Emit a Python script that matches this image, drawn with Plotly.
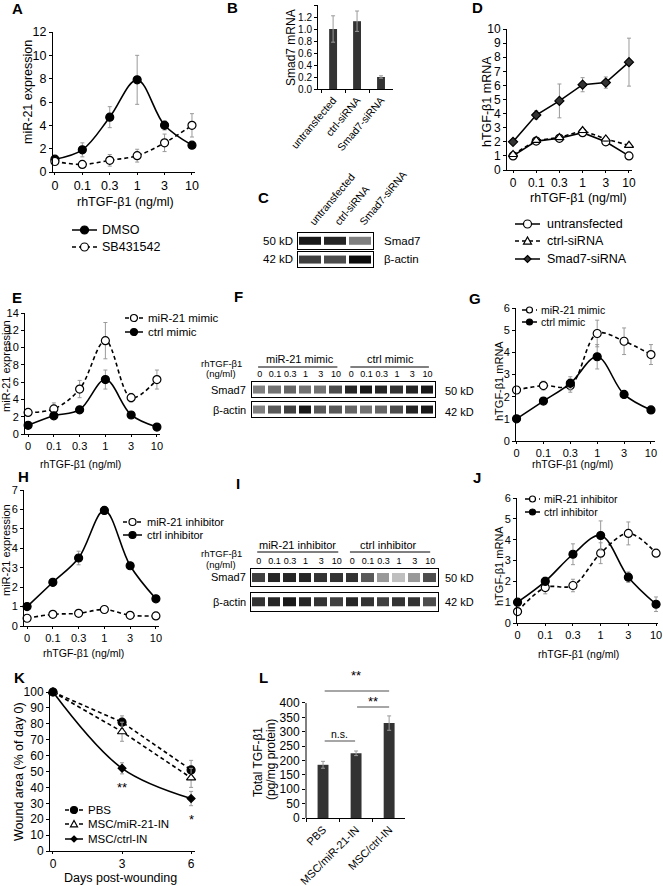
import plotly.graph_objects as go

W, H = 663, 886
FONT = "Liberation Sans, Arial, Helvetica, sans-serif"
ERR = "#9a9a9a"
BAR = "#333333"

# ---------------- data ----------------
doses = ["0", "0.1", "0.3", "1", "3", "10"]

a_names = ["DMSO", "SB431542"]
a_dmso = [1.1, 1.9, 4.7, 7.9, 4.0, 2.3]
a_dmso_err = [0.1, 0.6, 0.9, 2.1, 0.4, 0.1]
a_sb = [0.9, 0.65, 1.0, 1.4, 2.5, 4.0]
a_sb_err = [0.2, 0.1, 0.5, 0.55, 0.75, 1.0]

b_groups = ["untransfected", "ctrl-siRNA", "Smad7-siRNA"]
b_smad7 = [1.0, 1.13, 0.2]
b_smad7_err = [0.22, 0.17, 0.02]

c_smad7_band = [0.9, 0.85, 0.5]
c_actin_band = [0.75, 0.7, 0.95]

d_names = ["untransfected", "ctrl-siRNA", "Smad7-siRNA"]
d_untr = [1.0, 2.05, 2.25, 2.65, 2.0, 1.0]
d_untr_err = [0.1, 0.15, 0.1, 0.15, 0.1, 0.05]
d_ctrl = [1.1, 2.1, 2.3, 2.8, 2.2, 1.75]
d_ctrl_err = [0.1, 0.1, 0.1, 0.15, 0.15, 0.1]
d_smad = [2.0, 3.9, 4.9, 6.05, 6.2, 7.65]
d_smad_err = [0.05, 0.3, 1.2, 0.5, 0.4, 1.7]

mimic_names = ["miR-21 mimic", "ctrl mimic"]
e_mir = [2.5, 2.9, 5.2, 10.8, 4.2, 6.3]
e_mir_err = [0.2, 0.7, 1.0, 2.1, 0.5, 1.1]
e_ctrl = [1.0, 2.1, 2.8, 6.3, 2.2, 0.8]
e_ctrl_err = [0.1, 0.2, 0.2, 1.1, 0.2, 0.1]

lane_doses = doses + doses
f_smad7_band = [0.5, 0.55, 0.6, 0.55, 0.55, 0.7, 0.85, 0.9, 0.85, 0.8, 0.85, 0.9]
f_actin_band = [0.5, 0.65, 0.75, 0.9, 0.65, 0.65, 0.6, 0.55, 0.6, 0.7, 0.85, 0.9]

g_mir = [2.3, 2.5, 2.5, 4.85, 4.5, 3.9]
g_mir_err = [0.1, 0.2, 0.3, 0.6, 0.6, 0.45]
g_ctrl = [1.0, 1.8, 2.6, 3.8, 2.1, 1.4]
g_ctrl_err = [0.05, 0.1, 0.3, 0.55, 0.15, 0.1]

inhib_names = ["miR-21 inhibitor", "ctrl inhibitor"]
h_mir = [0.4, 0.6, 0.65, 0.85, 0.55, 0.52]
h_mir_err = [0.05, 0.05, 0.05, 0.06, 0.05, 0.05]
h_ctrl = [1.0, 2.25, 3.5, 5.95, 3.1, 1.4]
h_ctrl_err = [0.05, 0.2, 0.35, 0.2, 0.1, 0.1]

i_smad7_band = [0.75, 0.85, 0.85, 0.85, 0.8, 0.8, 0.8, 0.65, 0.4, 0.25, 0.4, 0.7]
i_actin_band = [0.8, 0.85, 0.9, 0.85, 0.8, 0.75, 0.85, 0.8, 0.75, 0.8, 0.8, 0.7]

j_mir = [0.55, 1.7, 1.8, 3.35, 4.3, 3.35]
j_mir_err = [0.05, 0.3, 0.3, 0.5, 0.55, 0.05]
j_ctrl = [1.0, 2.0, 3.3, 4.2, 2.2, 0.9]
j_ctrl_err = [0.05, 0.2, 0.5, 0.7, 0.25, 0.35]

k_names = ["PBS", "MSC/miR-21-IN", "MSC/ctrl-IN"]
k_days = [0, 3, 6]
k_pbs = [100, 81, 51]
k_pbs_err = [0, 4, 6]
k_mir = [100, 75, 46]
k_mir_err = [0, 6, 6]
k_ctrl = [100, 52, 33]
k_ctrl_err = [0, 3.5, 4.5]

l_groups = ["PBS", "MSC/miR-21-IN", "MSC/ctrl-IN"]
l_tgf = [185, 225, 330]
l_tgf_err = [12, 8, 25]

# ---------------- helpers ----------------
fig = go.Figure()
layout = dict(template="none", width=W, height=H, margin=dict(l=0, r=0, t=0, b=0, pad=0),
              autosize=False, paper_bgcolor="white", plot_bgcolor="white",
              font=dict(family=FONT, color="black", size=12), showlegend=False)
annotations = []
shapes = []


def names(i):
    s = "" if i == 1 else str(i)
    return "xaxis" + s, "yaxis" + s, "x" + s, "y" + s


def set_axes(i, left, right, top, bottom, xkw, ykw, fs=12):
    xa, ya, xr, yr = names(i)
    base = dict(showgrid=False, zeroline=False, showline=True, linecolor="black",
                linewidth=1, ticks="outside", ticklen=3, tickwidth=1, tickcolor="black",
                automargin=False, tickfont=dict(family=FONT, size=fs, color="black"))
    layout[xa] = {**base, "domain": [left / W, right / W], "anchor": yr, **xkw}
    layout[ya] = {**base, "domain": [1 - bottom / H, 1 - top / H], "anchor": xr, **ykw}
    return xr, yr


def note(text, x, y, size=12, angle=0, xanchor="center", bold=False):
    annotations.append(dict(text=("<b>%s</b>" % text) if bold else text, x=x / W, y=1 - y / H,
                            xref="paper", yref="paper", showarrow=False, textangle=angle,
                            xanchor=xanchor, yanchor="middle",
                            font=dict(family=FONT, size=size, color="black")))


def series(xr, yr, x, y, err, name, symbol, fill, dash, size=8, shape="spline", lw=1.6):
    fig.add_trace(go.Scatter(
        x=x, y=y, name=name, xaxis=xr, yaxis=yr, mode="lines+markers",
        cliponaxis=False, showlegend=False,
        line=dict(color="black", width=lw, dash=dash, shape=shape, smoothing=1),
        marker=dict(symbol=symbol, size=size, color=fill, line=dict(color="black", width=1.2)),
        error_y=dict(type="data", array=err, color=ERR, thickness=1, width=2)))


def legend_rows(x0, x1, tx, rows, fs):
    """Key: a short line with its marker in the middle, then the series name."""
    for y, name, symbol, fill, dash, size in rows:
        yy = 1 - y / H
        shapes.append(dict(type="line", xref="paper", yref="paper", x0=x0 / W, x1=x1 / W,
                           y0=yy, y1=yy, line=dict(color="black", width=1.5, dash=dash)))
        r = size / 2.0
        base = dict(xref="paper", yref="paper", xsizemode="pixel", ysizemode="pixel",
                    xanchor=(x0 + x1) / 2.0 / W, yanchor=yy, fillcolor=fill,
                    line=dict(color="black", width=1.2), layer="above")
        if symbol == "circle":
            shapes.append(dict(type="circle", x0=-r, x1=r, y0=-r, y1=r, **base))
        elif symbol == "triangle-up":
            shapes.append(dict(type="path", path="M %g %g L %g %g L 0 %g Z" % (-r, -0.8 * r, r, -0.8 * r, r), **base))
        else:
            shapes.append(dict(type="path", path="M 0 %g L %g 0 L 0 %g L %g 0 Z" % (r, r, -r, -r), **base))
        annotations.append(dict(text=name, x=tx / W, y=yy, xref="paper", yref="paper",
                                xanchor="left", yanchor="middle", showarrow=False,
                                font=dict(family=FONT, size=fs, color="black")))


def blot(i, left, right, top, bottom, bands, ticktext=None, tickangle=0, fs=10):
    xkw = dict(range=[-0.5, len(bands) - 0.5], mirror=True, ticks="", side="top",
               showticklabels=ticktext is not None)
    if ticktext is not None:
        xkw.update(tickvals=list(range(len(bands))), ticktext=ticktext, tickangle=tickangle)
    xr, yr = set_axes(i, left, right, top, bottom, xkw,
                      dict(range=[-0.95, 0.95], mirror=True, ticks="", showticklabels=False), fs=fs)
    fig.add_trace(go.Heatmap(z=[bands], xaxis=xr, yaxis=yr,
                             colorscale=[[0, "white"], [1, "black"]], zmin=0, zmax=1,
                             showscale=False, xgap=3, hoverinfo="skip"))
    return xr, yr


dash_s = "4px,3px"
xcat = dict(type="category", ticklen=2)

# ---------------- A ----------------
xr, yr = set_axes(1, 53, 195, 32, 172, dict(xcat, range=[-0.07, 5.11]),
                  dict(range=[0, 12], dtick=2), fs=12.5)
series(xr, yr, doses, a_dmso, a_dmso_err, a_names[0], "circle", "black", "solid")
series(xr, yr, doses, a_sb, a_sb_err, a_names[1], "circle", "white", dash_s)
legend_rows(72, 97, 100, [(230, a_names[0], "circle", "black", "solid", 8),
                          (247, a_names[1], "circle", "white", dash_s, 8)], 12.5)
note("A", 17, 9, 15, bold=True)
note("miR-21 expression", 28, 92, 12.5, angle=-90)
note("rhTGF-β1 (ng/ml)", 125, 202, 12.5)

# ---------------- B ----------------
xr, yr = set_axes(2, 318, 393, 5, 89,
                  dict(type="category", range=[-0.63, 2.5], tickson="boundaries", tickangle=-50,
                       tickfont=dict(family=FONT, size=10.5, color="black")),
                  dict(range=[0, 1.4], dtick=0.2, tickformat=".1f"), fs=10)
fig.add_trace(go.Bar(x=b_groups, y=b_smad7, xaxis=xr, yaxis=yr, width=0.33, showlegend=False,
                     marker=dict(color=BAR, line=dict(width=0)),
                     error_y=dict(type="data", array=b_smad7_err, color=ERR, thickness=1, width=2)))
note("B", 233, 8, 15, bold=True)
note("Smad7 mRNA", 291, 48, 12, angle=-90)

# ---------------- C ----------------
blot(3, 298, 373, 233, 249, c_smad7_band, ticktext=b_groups, tickangle=-50, fs=10.5)
blot(4, 298, 373, 252, 267, c_actin_band)
note("C", 263, 197, 15, bold=True)
note("50 kD", 295, 241, 11.5, xanchor="right")
note("42 kD", 295, 259, 11.5, xanchor="right")
note("Smad7", 382, 241, 11.5, xanchor="left")
note("β-actin", 382, 259, 11.5, xanchor="left")

# ---------------- D ----------------
xr, yr = set_axes(5, 507, 632, 29, 170, dict(xcat, range=[-0.26, 5.13]),
                  dict(range=[0, 10], dtick=1), fs=12)
series(xr, yr, doses, d_untr, d_untr_err, d_names[0], "circle", "white", "solid", shape="linear")
series(xr, yr, doses, d_ctrl, d_ctrl_err, d_names[1], "triangle-up", "white", dash_s, shape="linear")
series(xr, yr, doses, d_smad, d_smad_err, d_names[2], "diamond", "#333333", "solid", size=7, shape="linear")
legend_rows(515, 540, 545, [(224, d_names[0], "circle", "white", "solid", 8),
                            (241, d_names[1], "triangle-up", "white", dash_s, 8),
                            (259, d_names[2], "diamond", "#333333", "solid", 7)], 12.5)
note("D", 477, 8, 15, bold=True)
note("hTGF-β1 mRNA", 487, 102, 12.5, angle=-90)
note("rhTGF-β1 (ng/ml)", 578, 198, 12.5)

# ---------------- E ----------------
xr, yr = set_axes(6, 25, 160, 313, 434, dict(xcat, range=[-0.12, 5.12]),
                  dict(range=[0, 14], dtick=2), fs=11)
series(xr, yr, doses, e_mir, e_mir_err, mimic_names[0], "circle", "white", dash_s)
series(xr, yr, doses, e_ctrl, e_ctrl_err, mimic_names[1], "circle", "black", "solid")
legend_rows(125, 143, 146, [(318, mimic_names[0], "circle", "white", dash_s, 7),
                            (332, mimic_names[1], "circle", "black", "solid", 7)], 11.5)
note("E", 17, 297, 15, bold=True)
note("miR-21 expression", 6, 366, 11, angle=-90)
note("rhTGF-β1 (ng/ml)", 80, 464, 10.5)

# ---------------- F ----------------
xr, yr = blot(7, 252, 435, 382, 397, f_smad7_band, ticktext=lane_doses, fs=9)
blot(8, 252, 435, 402, 417, f_actin_band)
note("F", 238, 296, 15, bold=True)
note(mimic_names[0], 300, 359, 11)
note(mimic_names[1], 390, 359, 11)
shapes.append(dict(type="line", xref=xr, yref="paper", x0=-0.1, x1=5.1, y0=1 - 367 / H, y1=1 - 367 / H,
                   line=dict(color="black", width=1)))
shapes.append(dict(type="line", xref=xr, yref="paper", x0=5.95, x1=11.1, y0=1 - 367 / H, y1=1 - 367 / H,
                   line=dict(color="black", width=1)))
note("rhTGF-β1", 221, 363, 9.5)
note("(ng/ml)", 221, 374, 9.5)
note("Smad7", 248, 390, 11, xanchor="right")
note("β-actin", 248, 410, 11, xanchor="right")
note("50 kD", 443, 391, 11, xanchor="left")
note("42 kD", 443, 412, 11, xanchor="left")

# ---------------- G ----------------
xr, yr = set_axes(9, 516, 655, 308, 441, dict(xcat, range=[-0.02, 5.15]),
                  dict(range=[0, 6], dtick=1), fs=11)
series(xr, yr, doses, g_mir, g_mir_err, mimic_names[0], "circle", "white", dash_s)
series(xr, yr, doses, g_ctrl, g_ctrl_err, mimic_names[1], "circle", "black", "solid")
legend_rows(522, 537, 539, [(310, mimic_names[0], "circle", "white", dash_s, 6),
                            (322, mimic_names[1], "circle", "black", "solid", 6)], 10.5)
note("G", 475, 298, 15, bold=True)
note("hTGF-β1 mRNA", 499, 381, 11, angle=-90)
note("rhTGF-β1 (ng/ml)", 572, 464, 10.5)

# ---------------- H ----------------
xr, yr = set_axes(10, 24, 159, 490, 626, dict(xcat, range=[-0.12, 5.12]),
                  dict(range=[0, 7], dtick=1), fs=11)
series(xr, yr, doses, h_mir, h_mir_err, inhib_names[0], "circle", "white", dash_s)
series(xr, yr, doses, h_ctrl, h_ctrl_err, inhib_names[1], "circle", "black", "solid")
legend_rows(123, 142, 145, [(522, inhib_names[0], "circle", "white", dash_s, 7),
                            (535, inhib_names[1], "circle", "black", "solid", 7)], 11)
note("H", 23, 476, 15, bold=True)
note("miR-21 expression", 6, 550, 11, angle=-90)
note("rhTGF-β1 (ng/ml)", 83, 653, 10.5)

# ---------------- I ----------------
xr, yr = blot(11, 251, 438, 569, 586, i_smad7_band, ticktext=lane_doses, fs=9)
blot(12, 251, 438, 593, 611, i_actin_band)
note("I", 238, 483, 15, bold=True)
note(inhib_names[0], 297, 545, 11)
note(inhib_names[1], 388, 545, 11)
shapes.append(dict(type="line", xref=xr, yref="paper", x0=-0.1, x1=5.1, y0=1 - 552 / H, y1=1 - 552 / H,
                   line=dict(color="black", width=1)))
shapes.append(dict(type="line", xref=xr, yref="paper", x0=5.85, x1=11.0, y0=1 - 552 / H, y1=1 - 552 / H,
                   line=dict(color="black", width=1)))
note("rhTGF-β1", 221, 553, 9.5)
note("(ng/ml)", 221, 564, 9.5)
note("Smad7", 248, 577, 11, xanchor="right")
note("β-actin", 248, 602, 11, xanchor="right")
note("50 kD", 443, 578, 11, xanchor="left")
note("42 kD", 443, 602, 11, xanchor="left")

# ---------------- J ----------------
xr, yr = set_axes(13, 517, 658, 498, 623, dict(xcat, range=[-0.02, 5.07]),
                  dict(range=[0, 6], dtick=1), fs=11)
series(xr, yr, doses, j_mir, j_mir_err, inhib_names[0], "circle", "white", dash_s)
series(xr, yr, doses, j_ctrl, j_ctrl_err, inhib_names[1], "circle", "black", "solid")
legend_rows(525, 540, 542, [(499, inhib_names[0], "circle", "white", dash_s, 6),
                            (512, inhib_names[1], "circle", "black", "solid", 6)], 10.5)
note("J", 477, 477, 15, bold=True)
note("hTGF-β1 mRNA", 499, 566, 11, angle=-90)
note("rhTGF-β1 (ng/ml)", 578, 654, 10.5)

# ---------------- K ----------------
xr, yr = set_axes(14, 50, 195, 692, 851, dict(range=[-0.13, 6.17], tickvals=k_days, ticklen=2),
                  dict(range=[0, 100], dtick=10), fs=12)
series(xr, yr, k_days, k_pbs, k_pbs_err, k_names[0], "circle", "black", dash_s, size=8, shape="linear")
series(xr, yr, k_days, k_mir, k_mir_err, k_names[1], "triangle-up", "white", dash_s, size=8, shape="linear")
series(xr, yr, k_days, k_ctrl, k_ctrl_err, k_names[2], "diamond", "black", "solid", size=6)
legend_rows(65, 83, 86, [(810, k_names[0], "circle", "black", dash_s, 7),
                         (824, k_names[1], "triangle-up", "white", dash_s, 7),
                         (839, k_names[2], "diamond", "black", "solid", 6)], 11.5)
note("K", 19, 677, 15, bold=True)
note("Wound area (% of day 0)", 19, 772, 12.5, angle=-90)
note("Days post-wounding", 120, 878, 12.5)
annotations.append(dict(text="**", x=k_days[1], y=40, xref=xr, yref=yr, showarrow=False,
                        font=dict(family=FONT, size=13, color="black")))
annotations.append(dict(text="*", x=k_days[2], y=20, xref=xr, yref=yr, showarrow=False,
                        font=dict(family=FONT, size=13, color="black")))

# ---------------- L ----------------
xr, yr = set_axes(15, 306, 405, 688.6, 818,
                  dict(type="category", range=[-0.515, 2.48], tickson="boundaries", tickangle=-45,
                       tickfont=dict(family=FONT, size=11, color="black")),
                  dict(range=[0, 450], tickvals=[0, 50, 100, 150, 200, 250, 300, 350, 400], showline=False),
                  fs=12)
fig.add_trace(go.Bar(x=l_groups, y=l_tgf, xaxis=xr, yaxis=yr, width=0.33, showlegend=False,
                     marker=dict(color=BAR, line=dict(width=0)),
                     error_y=dict(type="data", array=l_tgf_err, color=ERR, thickness=1, width=2)))
shapes.append(dict(type="line", xref=xr + " domain", yref=yr, x0=0, x1=0, y0=0, y1=400,
                   line=dict(color="black", width=1)))
sig = "#888888"
shapes.append(dict(type="line", xref=xr, yref=yr, x0=0.05, x1=2.0, y0=442, y1=442, line=dict(color=sig, width=1.5)))
shapes.append(dict(type="line", xref=xr, yref=yr, x0=1.03, x1=2.0, y0=386, y1=386, line=dict(color=sig, width=1.5)))
shapes.append(dict(type="line", xref=xr, yref=yr, x0=0.05, x1=0.97, y0=268, y1=268, line=dict(color=sig, width=1.5)))
annotations.append(dict(text="**", x=1.0, y=1 - 685 / H, xref=xr, yref="paper", showarrow=False,
                        font=dict(family=FONT, size=13, color="black")))
annotations.append(dict(text="**", x=1.5, y=404, xref=xr, yref=yr, showarrow=False,
                        font=dict(family=FONT, size=13, color="black")))
annotations.append(dict(text="n.s.", x=0.5, y=292, xref=xr, yref=yr, showarrow=False,
                        font=dict(family=FONT, size=10.5, color="black")))
note("L", 263, 677, 15, bold=True)
note("Total TGF-β1", 258, 762, 12, angle=-90)
note("(pg/mg protein)", 271, 760, 12, angle=-90)

layout["annotations"] = annotations
layout["shapes"] = shapes
fig.update_layout(**layout)
fig.write_html("out.html", config={"displayModeBar": False},
               post_script="document.body.style.margin='0';")
